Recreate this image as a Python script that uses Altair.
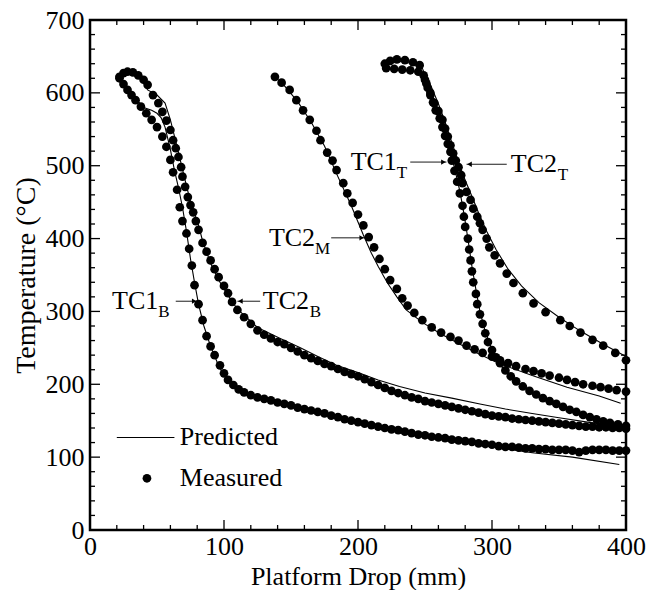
import altair as alt
import pandas as pd

W, H = 536, 510
FONT = "Liberation Serif"

# ---------------- measured data (mm, degC) ----------------
tc1b_mx = [22, 25, 28, 31, 34, 38, 42, 46, 50, 54, 57, 60, 62, 65, 67, 69, 72, 74, 76, 78, 81, 84, 87, 90, 93, 97, 100, 103, 107, 111, 115, 120, 125, 130, 135, 140, 145, 150, 155, 160, 165, 170, 175, 180, 185, 190, 195, 200, 205, 210, 215, 220, 225, 230, 235, 240, 245, 250, 255, 260, 265, 270, 275, 280, 285, 290, 295, 300, 305, 310, 315, 320, 325, 330, 335, 340, 345, 350, 355, 360, 365, 370, 375, 380, 385, 390, 395, 400]
tc1b_my = [620, 612, 604, 597, 590, 581, 572, 563, 553, 540, 526, 508, 491, 467, 443, 424, 407, 386, 363, 336, 310, 288, 266, 252, 240, 226, 215, 206, 199, 193, 189, 185, 182, 180, 178, 175, 173, 171, 168, 166, 164, 162, 160, 157, 155, 152, 150, 148, 146, 144, 142, 140, 138, 137, 135, 133, 131, 130, 128, 127, 126, 124, 123, 122, 121, 119, 118, 117, 115, 114, 114, 113, 112, 112, 111, 111, 110, 110, 110, 109, 107, 109, 110, 110, 110, 109, 109, 109]

tc2b_mx = [22, 25, 28, 32, 36, 40, 43, 47, 51, 54, 57, 60, 62, 64, 66, 68, 69, 71, 73, 75, 77, 79, 81, 84, 87, 90, 93, 96, 100, 103, 106, 110, 115, 120, 125, 130, 135, 140, 145, 150, 155, 160, 165, 170, 175, 180, 185, 190, 195, 200, 205, 210, 215, 220, 225, 230, 235, 240, 245, 250, 255, 260, 265, 270, 275, 280, 285, 290, 295, 300, 305, 310, 315, 320, 325, 330, 335, 340, 345, 350, 355, 360, 365, 370, 375, 380, 385, 390, 395, 400]
tc2b_my = [622, 627, 629, 628, 624, 618, 611, 597, 586, 574, 562, 549, 535, 524, 512, 498, 485, 471, 457, 446, 436, 424, 412, 394, 382, 370, 358, 347, 335, 325, 313, 302, 292, 283, 274, 268, 263, 258, 255, 250, 245, 240, 236, 232, 228, 225, 221, 217, 214, 211, 207, 203, 199, 195, 191, 188, 185, 182, 180, 177, 175, 173, 171, 169, 167, 165, 163, 161, 159, 157, 156, 155, 153, 152, 151, 150, 149, 148, 147, 146, 145, 144, 143, 142, 142, 141, 141, 140, 140, 139]

tc2m_mx = [138, 143, 149, 154, 159, 164, 169, 172, 177, 181, 184, 189, 192, 196, 200, 204, 208, 212, 216, 220, 224, 229, 233, 237, 242, 248, 255, 262, 269, 275, 281, 287, 293, 300, 306, 312, 318, 325, 331, 337, 343, 350, 356, 362, 368, 375, 381, 387, 393, 400]
tc2m_my = [622, 614, 604, 590, 576, 563, 548, 535, 518, 507, 494, 476, 462, 449, 433, 418, 402, 388, 372, 358, 343, 331, 318, 308, 298, 288, 278, 271, 265, 260, 253, 248, 243, 238, 233, 229, 225, 221, 218, 215, 212, 209, 206, 203, 200, 198, 196, 194, 192, 190]

tc1t_mx = [220, 224, 229, 235, 241, 246, 250, 252, 254, 256, 258, 261, 263, 265, 267, 269, 270, 272, 274, 276, 278, 279, 280, 282, 283, 284, 285, 286, 288, 289, 291, 293, 295, 297, 300, 303, 306, 310, 314, 318, 323, 328, 333, 338, 343, 348, 353, 358, 363, 368, 373, 378, 383, 388, 394, 400]
tc1t_my = [640, 644, 646, 645, 642, 638, 618, 607, 597, 587, 576, 565, 553, 541, 530, 519, 507, 493, 478, 462, 445, 430, 416, 400, 385, 370, 355, 340, 324, 310, 296, 283, 270, 258, 247, 237, 229, 219, 211, 204, 197, 191, 186, 181, 177, 173, 169, 165, 162, 158, 155, 152, 149, 147, 145, 143]

tc2t_mx = [221, 227, 233, 239, 245, 249, 251, 254, 257, 260, 263, 265, 267, 269, 271, 273, 275, 277, 278, 281, 284, 286, 289, 291, 293, 296, 298, 302, 306, 311, 316, 323, 331, 340, 351, 358, 366, 375, 383, 392, 400]
tc2t_my = [634, 633, 632, 631, 629, 624, 613, 600, 586, 575, 563, 551, 540, 528, 517, 507, 498, 487, 476, 464, 453, 441, 430, 421, 412, 400, 388, 377, 366, 352, 339, 325, 311, 299, 288, 280, 271, 261, 253, 243, 233]

# ---------------- predicted data ----------------
tc1b_px = [22, 30, 40, 46, 50, 53, 56, 60, 63, 66, 69, 72, 75, 78, 81, 85, 90, 95, 100, 110, 120, 140, 160, 180, 200, 225, 250, 275, 300, 330, 360, 395]
tc1b_py = [616, 600, 580, 576, 572, 566, 553, 522, 494, 470, 443, 410, 372, 340, 310, 280, 252, 230, 212, 195, 186, 175, 166, 157, 147, 137, 129, 121, 114, 106, 100, 90]

tc2b_px = [22, 26, 30, 35, 40, 43, 50, 56, 60, 65, 71, 76, 80, 84, 90, 96, 103, 110, 125, 142, 157, 170, 184, 200, 215, 231, 250, 270, 291, 310, 330, 350, 375, 400]
tc2b_py = [618, 625, 627, 624, 614, 604, 597, 586, 563, 526, 480, 443, 425, 397, 366, 343, 322, 303, 278, 263, 250, 238, 226, 216, 206, 197, 188, 181, 173, 166, 160, 154, 147, 141]

tc2m_px = [138, 145, 155, 165, 175, 185, 195, 204, 210, 215, 222, 229, 236, 248, 261, 275, 290, 306, 330, 356, 380, 396]
tc2m_py = [622, 610, 588, 560, 527, 485, 445, 405, 380, 362, 339, 320, 302, 285, 270, 256, 242, 228, 212, 196, 184, 174]

tc1t_px = [222, 232, 242, 248, 252, 256, 260, 264, 268, 272, 276, 279, 282, 285, 288, 291, 295, 300, 306, 315, 330, 350, 375, 400]
tc1t_py = [640, 643, 640, 634, 615, 595, 575, 552, 525, 497, 465, 435, 400, 362, 330, 300, 272, 248, 227, 208, 188, 170, 154, 143]

tc2t_px = [250, 255, 260, 265, 270, 275, 280, 285, 290, 296, 303, 312, 322, 335, 350, 366, 383, 400]
tc2t_py = [628, 607, 585, 560, 532, 505, 480, 458, 435, 410, 385, 358, 335, 312, 292, 273, 255, 238]

# ---------------- axes ticks ----------------
x_major = [0, 100, 200, 300, 400]
x_minor = [20, 40, 60, 80, 120, 140, 160, 180, 220, 240, 260, 280, 320, 340, 360, 380]
y_major = [0, 100, 200, 300, 400, 500, 600, 700]
y_minor = [20, 40, 60, 80, 120, 140, 160, 180, 220, 240, 260, 280, 320, 340, 360, 380,
           420, 440, 460, 480, 520, 540, 560, 580, 620, 640, 660, 680]

# ---------------- annotations ----------------
# left-side labels: text ends at ann_x, arrow goes right from a1 to a2 (tip)
annL_text = ["TC1", "TC2", "TC1"]
annL_sub = ["B", "M", "T"]
annL_x = [51, 168, 229]
annL_y = [314, 401, 505]
annL_a1 = [64, 180, 239]
annL_a2 = [80, 205, 266]
# right-side labels: arrow tip at a2, tail a1, text starts at ann_x
annR_text = ["TC2", "TC2"]
annR_sub = ["B", "T"]
annR_x = [129, 314]
annR_y = [314, 502]
annR_a1 = [127, 311]
annR_a2 = [110, 281]

legend_text = ["Predicted", "Measured"]
legend_text_x = [67, 67]
legend_text_y = [127, 71]
legend_line_x = [20, 63]
legend_dot_x = [42.5]

# ---------------- frames ----------------
def series(xs, ys, name):
    return pd.DataFrame({"x": xs, "y": ys, "series": name, "i": list(range(len(xs)))})

meas = pd.concat([
    series(tc1b_mx, tc1b_my, "TC1B"), series(tc2b_mx, tc2b_my, "TC2B"),
    series(tc2m_mx, tc2m_my, "TC2M"), series(tc1t_mx, tc1t_my, "TC1T"),
    series(tc2t_mx, tc2t_my, "TC2T")])
pred = pd.concat([
    series(tc1b_px, tc1b_py, "TC1B"), series(tc2b_px, tc2b_py, "TC2B"),
    series(tc2m_px, tc2m_py, "TC2M"), series(tc1t_px, tc1t_py, "TC1T"),
    series(tc2t_px, tc2t_py, "TC2T")])

xs = alt.Scale(domain=[0, 400], nice=False, zero=False)
ys = alt.Scale(domain=[0, 700], nice=False, zero=False)
xaxis = alt.Axis(values=x_major, title="Platform Drop (mm)", ticks=False, domain=False, grid=False,
                 labelFont=FONT, labelFontSize=26, labelColor="black", labelPadding=3,
                 titleFont=FONT, titleFontSize=26, titleFontWeight="normal", titleColor="black",
                 titlePadding=4, labelFlush=False)
yaxis = alt.Axis(values=y_major, title="Temperature (°C)", ticks=False, domain=False, grid=False,
                 labelFont=FONT, labelFontSize=26, labelColor="black", labelPadding=6,
                 titleFont=FONT, titleFontSize=28, titleFontWeight="normal", titleColor="black",
                 titlePadding=5, labelFlush=False)

X = alt.X("x:Q", scale=xs, axis=xaxis)
Y = alt.Y("y:Q", scale=ys, axis=yaxis)

base_pred = alt.Chart(pred).mark_line(color="black", strokeWidth=1.1).encode(
    x=X, y=Y, detail="series:N", order="i:Q")
base_meas = alt.Chart(meas).mark_circle(color="black", size=76, opacity=1).encode(x=X, y=Y)

# ticks
def xticks(vals, y0, y1):
    return alt.Chart(pd.DataFrame({"x": vals})).mark_rule(color="black", strokeWidth=1.3).encode(
        x=X, y=alt.value(y0), y2=alt.value(y1))

def yticks(vals, x0, x1):
    return alt.Chart(pd.DataFrame({"y": vals})).mark_rule(color="black", strokeWidth=1.3).encode(
        y=Y, x=alt.value(x0), x2=alt.value(x1))

tick_layers = [
    xticks(x_major, H, H - 10), xticks(x_minor, H, H - 5),
    xticks(x_major, 0, 10), xticks(x_minor, 0, 5),
    yticks(y_major, 0, 10), yticks(y_minor, 0, 5),
    yticks(y_major, W, W - 10), yticks(y_minor, W, W - 5),
]

# annotations
annL = pd.DataFrame({"t": annL_text, "s": annL_sub, "x": annL_x, "y": annL_y})
annR = pd.DataFrame({"t": annR_text, "s": annR_sub, "x": annR_x, "y": annR_y})
shafts = pd.DataFrame({"x": annL_a1 + annR_a1, "x2": annL_a2 + annR_a2, "y": annL_y + annR_y})
headsL = pd.DataFrame({"x": annL_a2, "y": annL_y})
headsR = pd.DataFrame({"x": annR_a2, "y": annR_y})

txt_style = dict(font=FONT, fontSize=26, color="black")
sub_style = dict(font=FONT, fontSize=17, color="black")

annL_main = alt.Chart(annL).mark_text(align="right", baseline="middle", **txt_style).encode(x=X, y=Y, text="t:N")
annL_subm = alt.Chart(annL).mark_text(align="left", baseline="middle", dx=0, dy=11, **sub_style).encode(x=X, y=Y, text="s:N")
annR_main = alt.Chart(annR).mark_text(align="left", baseline="middle", **txt_style).encode(x=X, y=Y, text="t:N")
annR_subm = alt.Chart(annR).mark_text(align="left", baseline="middle", dx=47, dy=11, **sub_style).encode(x=X, y=Y, text="s:N")
shaft = alt.Chart(shafts).mark_rule(color="black", strokeWidth=0.9).encode(x=X, x2="x2:Q", y=Y)
headL = alt.Chart(headsL).mark_point(shape="triangle-right", filled=True, color="black", size=28, opacity=1, xOffset=-3).encode(x=X, y=Y)
headR = alt.Chart(headsR).mark_point(shape="triangle-left", filled=True, color="black", size=28, opacity=1, xOffset=3).encode(x=X, y=Y)

# legend
leg_text = alt.Chart(pd.DataFrame({"t": legend_text, "x": legend_text_x, "y": legend_text_y})).mark_text(
    align="left", baseline="middle", font=FONT, fontSize=26, color="black").encode(x=X, y=Y, text="t:N")
leg_line = alt.Chart(pd.DataFrame({"x": legend_line_x, "y": [legend_text_y[0]] * 2})).mark_line(
    color="black", strokeWidth=1.1).encode(x=X, y=Y)
leg_dot = alt.Chart(pd.DataFrame({"x": legend_dot_x, "y": [legend_text_y[1]]})).mark_circle(
    color="black", size=76, opacity=1).encode(x=X, y=Y)

chart = alt.layer(
    base_pred, base_meas, *tick_layers,
    annL_main, annL_subm, annR_main, annR_subm, shaft, headL, headR,
    leg_text, leg_line, leg_dot,
).properties(
    width=W, height=H,
    autosize=alt.AutoSizeParams(type="none"),
    padding={"left": 90, "top": 20, "right": 22, "bottom": 60},
    background="white",
).configure_view(stroke="black", strokeWidth=2.5)

chart.save("out.html", embed_options={"renderer": "svg", "actions": False})
